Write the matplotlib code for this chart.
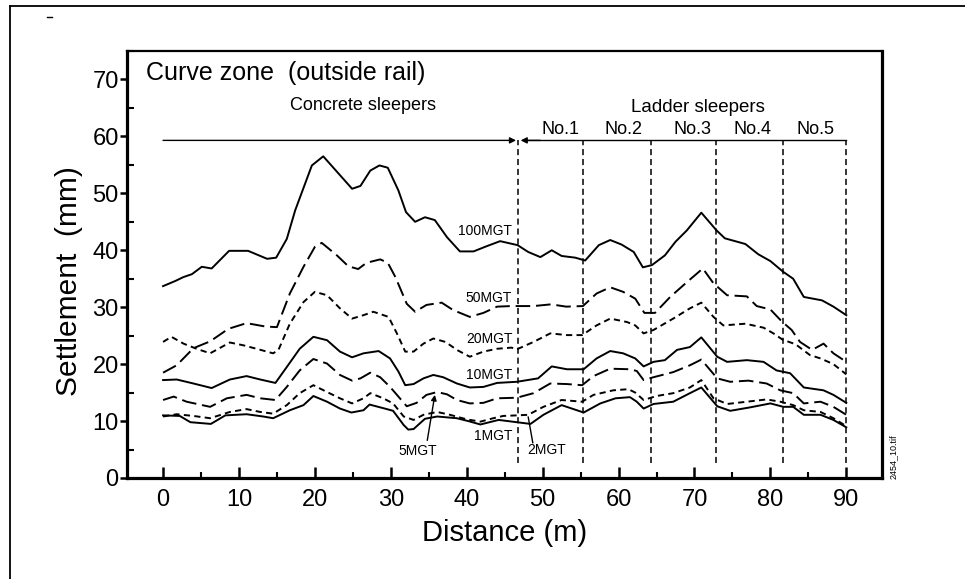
import matplotlib
matplotlib.use("Agg")
import matplotlib.pyplot as plt
from matplotlib.lines import Line2D
from matplotlib.ticker import MultipleLocator

plt.rcParams['font.family'] = ['Liberation Sans', 'DejaVu Sans']

# ---------------- data ----------------
x100 = [0, 1.6, 2.7, 3.8, 5.1, 6.4, 8.7, 11.2, 13.7, 14.9, 16.3, 17.4, 19.6, 21.1, 23.5, 24.9, 26.0, 27.3,
        28.5, 29.6, 31.0, 32.0, 33.2, 34.5, 35.8, 37.4, 39.1, 40.9, 42.6, 44.4, 46.7, 48.1, 49.7, 51.2,
        52.5, 54.3, 55.6, 57.4, 58.9, 60.4, 62.0, 63.2, 64.4, 66.1, 67.5, 69.0, 70.9, 72.9, 74.0, 76.7,
        78.4, 80.0, 81.7, 83.0, 84.4, 86.8, 88.3, 90.0]
y100 = [33.7, 34.6, 35.3, 35.8, 37.1, 36.8, 39.9, 39.9, 38.5, 38.7, 42.0, 47.0, 54.9, 56.5, 52.9, 50.8, 51.3, 54.0,
        54.9, 54.5, 50.5, 46.7, 45.0, 45.8, 45.3, 42.3, 39.8, 39.8, 40.7, 41.6, 40.9, 39.7, 38.8, 40.0,
        39.0, 38.7, 38.2, 40.9, 41.8, 41.0, 39.7, 37.0, 37.4, 39.1, 41.5, 43.5, 46.6, 43.5, 42.1, 41.1,
        39.3, 38.1, 36.2, 35.0, 31.8, 31.2, 30.1, 28.6]

x50 = [0, 1.8, 4.0, 6.2, 8.6, 11.0, 13.5, 15.0, 16.7, 18.5, 20.0, 20.9, 22.9, 24.4, 25.7, 26.8, 28.6, 29.6,
       30.6, 32.1, 33.2, 34.7, 36.7, 38.2, 40.4, 42.2, 44.0, 45.9, 46.7, 48.8, 51.1, 53.1, 55.3, 57.1,
       58.9, 60.6, 62.2, 63.4, 64.8, 66.8, 69.0, 71.1, 72.5, 74.3, 76.9, 78.2, 80.0, 81.5, 82.8, 83.9,
       85.5, 87.0, 88.3, 90.0]
y50 = [18.5, 19.8, 22.8, 24.0, 26.2, 27.2, 26.6, 26.5, 32.4, 37.1, 40.6, 41.3, 39.1, 37.2, 36.7, 37.8, 38.4, 37.8,
       35.3, 30.6, 29.2, 30.4, 30.8, 29.5, 28.3, 29.0, 30.1, 30.2, 30.2, 30.2, 30.5, 30.1, 30.2, 32.4,
       33.5, 32.7, 31.5, 29.0, 29.0, 31.8, 34.4, 36.8, 34.2, 32.1, 31.9, 30.2, 29.6, 27.5, 26.0, 23.9,
       22.5, 23.6, 21.9, 20.4]

x20 = [0, 1.1, 2.7, 4.4, 6.2, 8.8, 10.6, 12.3, 14.5, 15.2, 16.7, 18.5, 20.0, 21.6, 23.3, 24.9, 26.4, 27.7,
       29.7, 30.8, 31.9, 33.0, 34.3, 35.6, 37.2, 38.7, 40.4, 42.2, 44.0, 45.9, 46.6, 48.8, 51.0, 53.2,
       55.2, 57.1, 58.9, 61.1, 62.2, 63.3, 64.6, 67.2, 69.4, 70.9, 72.5, 73.8, 76.7, 79.1, 80.4, 81.6,
       83.3, 85.2, 86.6, 88.3, 90.0]
y20 = [23.9, 24.8, 23.6, 22.7, 21.9, 23.8, 23.3, 22.7, 21.9, 22.5, 27.1, 30.9, 32.7, 32.1, 29.8, 28.0, 28.6, 29.2,
       28.3, 25.4, 22.2, 22.2, 23.6, 24.5, 23.9, 22.5, 21.3, 22.2, 22.7, 22.9, 22.6, 23.9, 25.4, 25.1,
       25.1, 26.8, 28.0, 27.4, 26.8, 25.4, 26.0, 28.0, 29.8, 30.8, 28.3, 26.8, 27.1, 26.4, 25.4, 24.3,
       23.5, 21.6, 21.0, 20.0, 18.2]

x10 = [0, 1.8, 4.0, 6.4, 8.8, 11.0, 12.8, 14.8, 16.3, 18.0, 19.8, 21.6, 23.3, 24.9, 26.4, 28.4, 29.9, 31.0,
       31.9, 33.0, 34.3, 35.6, 36.9, 38.7, 40.4, 42.2, 44.0, 46.6, 49.4, 51.2, 53.2, 55.4, 57.1, 58.9,
       60.6, 62.2, 63.3, 64.6, 66.1, 67.7, 69.4, 70.9, 73.0, 74.3, 76.9, 79.1, 80.8, 82.6, 84.4, 87.0,
       88.3, 90.0]
y10 = [17.2, 17.3, 16.6, 15.8, 17.3, 17.9, 17.3, 16.7, 19.5, 22.7, 24.8, 24.2, 22.2, 21.2, 21.9, 22.3, 21.0, 18.7,
       16.3, 16.5, 17.5, 18.1, 17.7, 16.6, 15.9, 16.0, 16.7, 16.9, 17.5, 19.6, 19.1, 19.1, 21.0, 22.3,
       21.9, 21.0, 19.6, 20.4, 20.7, 22.5, 23.0, 24.7, 21.3, 20.4, 20.7, 20.4, 18.9, 18.4, 15.9, 15.4,
       14.6, 13.2]

x5 = [0, 1.4, 3.1, 6.2, 8.4, 11.0, 12.8, 14.8, 16.3, 18.0, 19.8, 21.6, 23.3, 24.9, 26.0, 27.3, 28.6, 29.9,
      31.0, 32.1, 33.4, 34.7, 36.1, 37.4, 38.7, 40.4, 42.2, 44.0, 46.6, 48.8, 51.0, 53.2, 55.2, 56.7,
      58.9, 61.5, 62.4, 63.3, 64.6, 67.2, 69.4, 70.9, 73.0, 74.7, 77.1, 79.5, 81.3, 83.0, 84.4, 86.6,
      88.3, 90.0]
y5 = [13.7, 14.3, 13.4, 12.5, 14.0, 14.6, 14.0, 13.7, 16.0, 18.9, 20.9, 20.1, 18.1, 17.1, 17.5, 18.5, 17.7, 16.0,
      14.3, 12.6, 13.2, 14.6, 15.1, 14.7, 13.7, 13.1, 13.2, 14.0, 14.1, 14.9, 16.6, 16.5, 16.3, 17.9,
      19.2, 19.1, 18.8, 17.2, 17.7, 18.6, 19.8, 20.8, 17.5, 16.9, 17.1, 16.6, 15.4, 14.9, 13.1, 13.4,
      12.5, 11.1]

x2 = [0, 1.8, 4.0, 6.2, 8.8, 11.0, 12.8, 14.5, 16.3, 18.0, 19.8, 21.6, 23.3, 24.9, 26.4, 27.3, 29.0, 30.3,
      31.7, 33.0, 34.3, 36.1, 37.8, 40.0, 41.8, 43.5, 44.8, 46.6, 48.1, 50.1, 52.5, 55.2, 56.7, 59.3,
      61.3, 62.2, 63.3, 65.0, 67.2, 69.4, 70.9, 72.5, 74.3, 76.9, 79.5, 81.3, 83.0, 84.4, 86.6, 88.3, 90.0]
y2 = [10.8, 11.2, 10.9, 10.5, 11.6, 12.1, 11.6, 11.3, 12.8, 14.9, 16.3, 15.1, 14.0, 13.1, 14.0, 14.9, 14.0, 13.1,
      10.8, 10.2, 11.1, 11.6, 11.1, 10.3, 9.9, 10.5, 10.9, 11.0, 11.1, 12.5, 13.7, 13.4, 14.6, 15.4,
      15.6, 15.0, 13.7, 14.4, 14.9, 15.9, 17.2, 14.0, 13.0, 13.4, 13.8, 13.4, 12.8, 11.9, 11.6, 10.5, 9.1]

x1 = [0, 2.2, 3.6, 6.3, 8.2, 11.0, 13.2, 14.5, 16.7, 18.5, 19.8, 21.6, 23.3, 24.8, 26.4, 27.2, 29.2, 30.3,
      31.7, 32.3, 33.0, 34.5, 36.1, 38.7, 40.2, 41.8, 44.2, 46.6, 48.4, 50.1, 52.5, 55.4, 57.6, 59.6,
      61.5, 62.4, 63.3, 64.6, 67.2, 69.4, 70.9, 73.0, 74.7, 77.3, 80.0, 81.7, 83.0, 84.4, 86.6, 88.3, 90.0]
y1 = [11.0, 10.9, 9.8, 9.5, 11.0, 11.2, 10.8, 10.5, 11.9, 12.8, 14.4, 13.4, 12.2, 11.5, 11.9, 12.9, 12.2, 11.8,
      9.3, 8.5, 8.6, 10.4, 10.8, 10.5, 10.0, 9.4, 10.2, 9.8, 9.5, 11.1, 12.8, 11.5, 13.1, 14.0,
      14.2, 13.4, 12.2, 13.0, 13.4, 14.9, 15.9, 12.6, 11.8, 12.4, 13.1, 12.5, 12.5, 11.1, 11.1, 10.2, 8.9]

boundaries = [46.7, 55.3, 64.3, 72.9, 81.6, 90.0]
section_labels = ["No.1", "No.2", "No.3", "No.4", "No.5"]
section_label_x = [52.3, 60.6, 69.7, 77.7, 86.0]
xticks = [0, 10, 20, 30, 40, 50, 60, 70, 80, 90]
yticks = [0, 10, 20, 30, 40, 50, 60, 70]

# ---------------- figure ----------------
fig = plt.figure(figsize=(9.65, 5.79), dpi=100)
ax = fig.add_axes([127 / 965, 1 - 478 / 579, (882 - 127) / 965, (478 - 51) / 579])
ax.set_xlim(-4.75, 94.7)
ax.set_ylim(0, 75)

lw = 1.4
solid = dict(color='black', lw=lw, linestyle='-')
longd = dict(color='black', lw=lw, linestyle=(0, (7.5, 3)))
shortd = dict(color='black', lw=lw, linestyle=(0, (3.2, 2.2)))

ax.plot(x100, y100, **solid)
ax.plot(x50, y50, **longd)
ax.plot(x20, y20, **shortd)
ax.plot(x10, y10, **solid)
ax.plot(x5, y5, **longd)
ax.plot(x2, y2, **shortd)
ax.plot(x1, y1, **solid)

# section dividers
arrow_y = 59.3
ax.vlines(boundaries, 2.6, arrow_y, colors='black', lw=1.1, linestyles=(0, (4, 2.5)))
ax.plot([boundaries[0] + 0.8, boundaries[-1]], [arrow_y, arrow_y], color='black', lw=1.0)
ax.annotate('', xy=(boundaries[0] - 0.2, arrow_y), xytext=(0, arrow_y),
            arrowprops=dict(arrowstyle='-|>', color='black', lw=1.0, mutation_scale=9, shrinkA=0, shrinkB=0))
ax.annotate('', xy=(boundaries[0] + 0.4, arrow_y), xytext=(boundaries[0] + 3, arrow_y),
            arrowprops=dict(arrowstyle='-|>', color='black', lw=1.0, mutation_scale=9, shrinkA=0, shrinkB=0))

for lab, xx in zip(section_labels, section_label_x):
    ax.text(xx, 61.2, lab, ha='center', va='center', fontsize=13)

ax.text(-2.3, 71.2, "Curve zone  (outside rail)", ha='left', va='center', fontsize=18)
ax.text(26.4, 65.4, "Concrete sleepers", ha='center', va='center', fontsize=13)
ax.text(70.5, 65.1, "Ladder sleepers", ha='center', va='center', fontsize=13.5)

# curve labels
lab_fs = 10
ax.text(46.0, 43.3, "100MGT", ha='right', va='center', fontsize=lab_fs)
ax.text(46.0, 31.6, "50MGT", ha='right', va='center', fontsize=lab_fs)
ax.text(46.0, 24.4, "20MGT", ha='right', va='center', fontsize=lab_fs)
ax.text(46.0, 18.1, "10MGT", ha='right', va='center', fontsize=lab_fs)
ax.text(46.0, 7.4, "1MGT", ha='right', va='center', fontsize=lab_fs)
ax.text(33.5, 4.7, "5MGT", ha='center', va='center', fontsize=lab_fs)
ax.annotate('', xy=(35.8, 14.6), xytext=(34.8, 6.6),
            arrowprops=dict(arrowstyle='-|>', color='black', lw=1.0, mutation_scale=8, shrinkA=0, shrinkB=0))
ax.text(50.5, 4.9, "2MGT", ha='center', va='center', fontsize=lab_fs)
ax.plot([48.7, 48.1], [6.2, 10.7], color='black', lw=1.0)

# axes styling
ax.set_xticks(xticks)
ax.set_yticks(yticks)
ax.xaxis.set_minor_locator(MultipleLocator(5))
ax.yaxis.set_minor_locator(MultipleLocator(5))
ax.tick_params(axis='x', which='major', direction='in', length=8, width=1.8, labelsize=17, pad=8)
ax.tick_params(axis='x', which='minor', direction='in', length=4, width=1.5)
ax.tick_params(axis='y', which='major', direction='out', length=5, width=1.8, labelsize=17, pad=1)
ax.tick_params(axis='y', which='minor', direction='in', length=5, width=1.5)
for side in ['left', 'bottom', 'right']:
    ax.spines[side].set_linewidth(2.3)
ax.spines['top'].set_linewidth(1.6)

ax.set_xlabel("Distance (m)", fontsize=21, labelpad=6)
ax.set_ylabel("Settlement  (mm)", fontsize=21.5)
ax.yaxis.set_label_coords(-0.058, 0.461)

# figure decorations
fig.text(893 / 965, 1 - 457 / 579, "2454_10.tif", rotation=90, ha='center', va='center', fontsize=6.5)
fig.add_artist(Line2D([10 / 965, 10 / 965], [0, 1 - 6 / 579], color='black', lw=1.3))
fig.add_artist(Line2D([10 / 965, 1], [1 - 6 / 579, 1 - 6 / 579], color='black', lw=1.3))
fig.add_artist(Line2D([47 / 965, 52 / 965], [1 - 17 / 579, 1 - 17 / 579], color='black', lw=1.0))

fig.savefig("out.png", dpi=100)
